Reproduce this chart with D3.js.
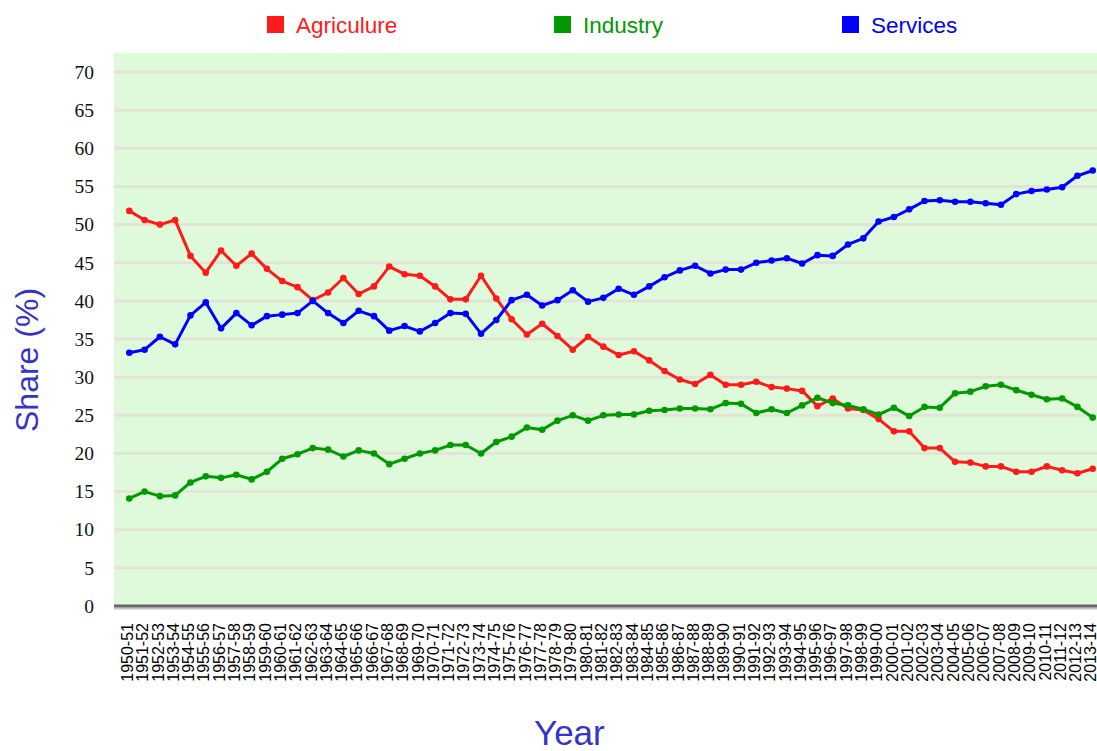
<!DOCTYPE html>
<html>
<head>
<meta charset="utf-8">
<script src="https://cdn.jsdelivr.net/npm/d3@7"></script>
<style>
  body { margin: 0; background: #fff; }
  svg { display: block; }
</style>
</head>
<body>
<div id="vis"></div>
<script>
const years = ["1950-51","1951-52","1952-53","1953-54","1954-55","1955-56","1956-57","1957-58",
  "1958-59","1959-60","1960-61","1961-62","1962-63","1963-64","1964-65","1965-66","1966-67",
  "1967-68","1968-69","1969-70","1970-71","1971-72","1972-73","1973-74","1974-75","1975-76",
  "1976-77","1977-78","1978-79","1979-80","1980-81","1981-82","1982-83","1983-84","1984-85",
  "1985-86","1986-87","1987-88","1988-89","1989-90","1990-91","1991-92","1992-93","1993-94",
  "1994-95","1995-96","1996-97","1997-98","1998-99","1999-00","2000-01","2001-02","2002-03",
  "2003-04","2004-05","2005-06","2006-07","2007-08","2008-09","2009-10","2010-11","2011-12",
  "2012-13","2013-14"];

const agriculture = [51.8,50.6,50.0,50.6,45.9,43.7,46.6,44.6,46.2,44.2,42.6,41.8,40.1,41.1,43.0,40.9,
  41.9,44.5,43.5,43.3,41.9,40.2,40.2,43.3,40.3,37.6,35.6,37.0,35.4,33.6,35.3,34.0,
  32.9,33.4,32.2,30.8,29.7,29.1,30.3,29.0,29.0,29.4,28.7,28.5,28.2,26.2,27.2,25.9,
  25.7,24.5,22.9,22.9,20.7,20.7,18.9,18.8,18.3,18.3,17.6,17.6,18.3,17.8,17.4,18.0];

const industry = [14.1,15.0,14.4,14.5,16.2,17.0,16.8,17.2,16.6,17.6,19.3,19.9,20.7,20.5,19.6,20.4,
  20.0,18.6,19.3,20.0,20.4,21.1,21.1,20.0,21.5,22.2,23.4,23.1,24.3,25.0,24.3,25.0,
  25.1,25.1,25.6,25.7,25.9,25.9,25.8,26.6,26.5,25.3,25.8,25.3,26.3,27.3,26.6,26.3,
  25.8,25.1,26.0,24.9,26.1,26.0,27.9,28.1,28.8,29.0,28.3,27.7,27.1,27.2,26.1,24.7];

const services = [33.2,33.6,35.3,34.3,38.1,39.8,36.4,38.4,36.8,38.0,38.2,38.4,40.0,38.4,37.1,38.7,
  38.0,36.1,36.7,36.0,37.1,38.4,38.3,35.7,37.5,40.1,40.8,39.4,40.1,41.4,39.9,40.4,
  41.6,40.8,41.9,43.1,44.0,44.6,43.6,44.1,44.1,45.0,45.3,45.6,44.9,46.0,45.9,47.4,
  48.2,50.4,51.0,52.0,53.1,53.2,53.0,53.0,52.8,52.6,54.0,54.4,54.6,54.9,56.4,57.1];

const seriesNames = ["Agriculure", "Industry", "Services"];
const seriesColors = ["#ff1a1a", "#009a00", "#0000ff"];
const yTicks = [0,5,10,15,20,25,30,35,40,45,50,55,60,65,70];

const W = 1097, H = 751;
const plot = { left: 114, right: 1108, top: 53, bottom: 606 };

const svg = d3.select("#vis").append("svg")
    .attr("width", W)
    .attr("height", H)
    .style("font-family", "'Liberation Sans', Arial, sans-serif");

const x = d3.scalePoint()
    .domain(years)
    .range([plot.left, plot.right])
    .padding(1);

const y = d3.scaleLinear()
    .domain([0, 72.5])
    .range([plot.bottom, plot.top]);

// plot background
svg.append("rect")
    .attr("x", plot.left)
    .attr("y", plot.top)
    .attr("width", plot.right - plot.left)
    .attr("height", plot.bottom - plot.top)
    .attr("fill", "#dffadb");

// gridlines
svg.append("g")
    .selectAll("line")
    .data(yTicks.filter(d => d > 0))
    .enter()
    .append("line")
    .attr("x1", plot.left)
    .attr("x2", plot.right)
    .attr("y1", d => y(d))
    .attr("y2", d => y(d))
    .attr("stroke", "#e2e5d5")
    .attr("stroke-width", 3);

// y axis labels
const yAxis = svg.append("g")
    .attr("transform", "translate(" + (plot.left - 20) + ",0)")
    .call(d3.axisLeft(y).tickValues(yTicks).tickSize(0).tickPadding(0));
yAxis.select(".domain").remove();
yAxis.selectAll("text")
    .attr("font-family", "'Liberation Serif', 'Times New Roman', serif")
    .attr("font-size", 19.5)
    .attr("fill", "#111");

// bottom axis line with shadow
svg.append("line")
    .attr("x1", plot.left).attr("x2", plot.right)
    .attr("y1", plot.bottom + 2.5).attr("y2", plot.bottom + 2.5)
    .attr("stroke", "#c4c4c4").attr("stroke-width", 2);
svg.append("line")
    .attr("x1", plot.left).attr("x2", plot.right)
    .attr("y1", plot.bottom).attr("y2", plot.bottom)
    .attr("stroke", "#666").attr("stroke-width", 3);

// x axis labels
const xAxis = svg.append("g")
    .attr("transform", "translate(0," + (plot.bottom + 17) + ")")
    .call(d3.axisBottom(x).tickSize(0).tickPadding(0));
xAxis.select(".domain").remove();
xAxis.selectAll("text")
    .attr("font-size", 16)
    .attr("fill", "#000")
    .attr("text-anchor", "end")
    .attr("dy", "0.2em")
    .attr("transform", "rotate(-90)");

// lines
const line = d3.line()
    .x((d, i) => x(years[i]))
    .y(d => y(d));

const allSeries = [agriculture, industry, services];
allSeries.forEach(function (vals, k) {
    const g = svg.append("g");
    g.append("path")
        .datum(vals)
        .attr("fill", "none")
        .attr("stroke", seriesColors[k])
        .attr("stroke-width", 3)
        .attr("stroke-linejoin", "round")
        .attr("d", line);
    g.selectAll("circle")
        .data(vals)
        .enter()
        .append("circle")
        .attr("cx", (d, i) => x(years[i]))
        .attr("cy", d => y(d))
        .attr("r", 3.3)
        .attr("fill", seriesColors[k]);
});

// legend
const legendX = [267, 554, 842];
seriesNames.forEach(function (name, k) {
    svg.append("rect")
        .attr("x", legendX[k])
        .attr("y", 16)
        .attr("width", 17)
        .attr("height", 17)
        .attr("fill", seriesColors[k]);
    svg.append("text")
        .attr("x", legendX[k] + 29)
        .attr("y", 33)
        .attr("font-size", 22.5)
        .attr("fill", seriesColors[k])
        .text(name);
});

// axis titles
svg.append("text")
    .attr("x", 534)
    .attr("y", 745)
    .attr("font-size", 35)
    .attr("fill", "#3434c8")
    .text("Year");

svg.append("text")
    .attr("transform", "translate(38,432) rotate(-90)")
    .attr("font-size", 32)
    .attr("fill", "#3434c8")
    .text("Share (%)");
</script>
</body>
</html>
